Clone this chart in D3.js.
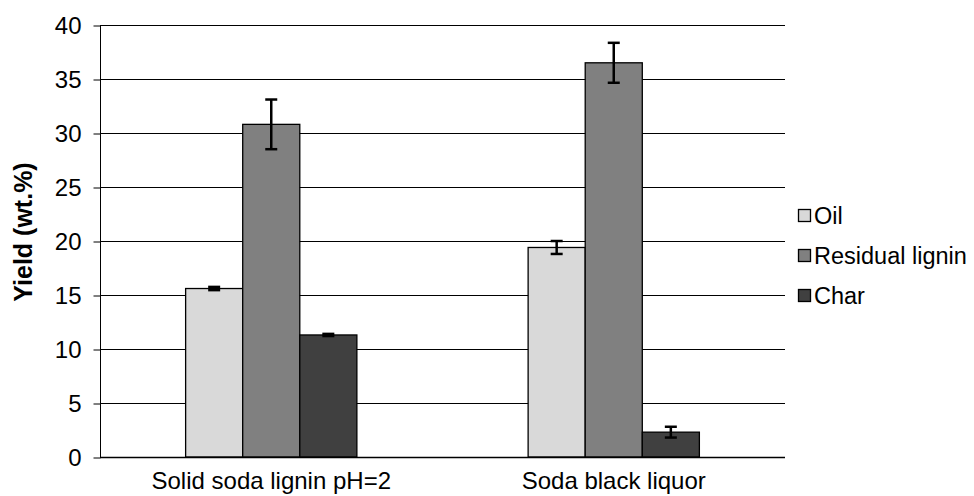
<!DOCTYPE html>
<html lang="en">
<head>
<meta charset="UTF-8">
<title>Yield chart</title>
<style>
    body { margin: 0; padding: 0; background: #fff; }
    svg text { font-family: Arial, "Liberation Sans", sans-serif; fill: #000; }
</style>
<script src="https://d3js.org/d3.v7.min.js"></script>
</head>
<body>
<svg id="chart" width="974" height="496"></svg>
<script>
    // data
    const categories = ["Solid soda lignin pH=2", "Soda black liquor"];
    const series = ["Oil", "Residual lignin", "Char"];
    const colors = ["#d9d9d9", "#808080", "#404040"];
    const oilValues = [15.6, 19.4];
    const ligninValues = [30.8, 36.5];
    const charValues = [11.3, 2.3];
    const oilErrors = [0.15, 0.6];
    const ligninErrors = [2.3, 1.85];
    const charErrors = [0.1, 0.5];
    const yTicks = [0, 5, 10, 15, 20, 25, 30, 35, 40];

    const values = [oilValues, ligninValues, charValues];
    const errors = [oilErrors, ligninErrors, charErrors];

    const plotLeft = 100, plotRight = 785, plotTop = 25, plotBottom = 457;
    const svg = d3.select("#chart");

    const y = d3.scaleLinear().domain([0, 40]).range([plotBottom, plotTop]);
    const x0 = d3.scaleBand().domain(categories).range([plotLeft, plotRight])
        .paddingInner(0.5).paddingOuter(0.25);
    const x1 = d3.scaleBand().domain(series).range([0, x0.bandwidth()]);

    // gridlines
    svg.append("g")
        .selectAll("line")
        .data(yTicks.filter(d => d > 0))
        .enter().append("line")
        .attr("x1", plotLeft).attr("x2", plotRight)
        .attr("y1", d => Math.round(y(d)) + 0.5)
        .attr("y2", d => Math.round(y(d)) + 0.5)
        .attr("stroke", "#000")
        .attr("stroke-width", 1);

    // y axis
    const yAxis = svg.append("g")
        .attr("transform", `translate(${plotLeft + 0.5},0.5)`)
        .call(d3.axisLeft(y).tickValues(yTicks).tickSize(7).tickPadding(12));
    yAxis.selectAll("text").style("font-size", "24px");
    yAxis.selectAll("line, path").attr("stroke", "#000");
    yAxis.select(".domain").attr("d", `M0,${plotTop}V${plotBottom}`);

    // bars
    const rows = [];
    categories.forEach((c, i) => {
        series.forEach((s, j) => {
            rows.push({ cat: c, ser: s, idx: j, v: values[j][i], e: errors[j][i] });
        });
    });

    svg.append("g")
        .selectAll("rect")
        .data(rows)
        .enter().append("rect")
        .attr("x", d => x0(d.cat) + x1(d.ser))
        .attr("y", d => y(d.v))
        .attr("width", x1.bandwidth())
        .attr("height", d => y(0) - y(d.v))
        .attr("fill", d => colors[d.idx])
        .attr("stroke", "#000")
        .attr("stroke-width", 1.3);

    // x axis baseline
    svg.append("line")
        .attr("x1", plotLeft).attr("x2", plotRight)
        .attr("y1", plotBottom + 0.5).attr("y2", plotBottom + 0.5)
        .attr("stroke", "#000").attr("stroke-width", 1.3);

    // error bars
    const err = svg.append("g").attr("stroke", "#000").attr("stroke-width", 2.5);
    rows.forEach(d => {
        const cx = x0(d.cat) + x1(d.ser) + x1.bandwidth() / 2;
        err.append("line")
            .attr("x1", cx).attr("x2", cx)
            .attr("y1", y(d.v + d.e)).attr("y2", y(d.v - d.e));
        [d.v + d.e, d.v - d.e].forEach(v => {
            err.append("line")
                .attr("x1", cx - 6).attr("x2", cx + 6)
                .attr("y1", y(v)).attr("y2", y(v));
        });
    });

    // category labels
    svg.append("g")
        .selectAll("text")
        .data(categories)
        .enter().append("text")
        .attr("x", d => x0(d) + x0.bandwidth() / 2)
        .attr("y", 489)
        .attr("text-anchor", "middle")
        .style("font-size", "24px")
        .text(d => d);

    // y title
    svg.append("text")
        .attr("transform", "translate(32,232) rotate(-90)")
        .attr("text-anchor", "middle")
        .style("font-size", "25px")
        .style("font-weight", "bold")
        .text("Yield (wt.%)");

    // legend
    const legend = svg.append("g")
        .selectAll("g")
        .data(series)
        .enter().append("g")
        .attr("transform", (d, i) => `translate(798,${216 + i * 40})`);
    legend.append("rect")
        .attr("x", 0.5).attr("y", -6.5)
        .attr("width", 12).attr("height", 12)
        .attr("fill", (d, i) => colors[i])
        .attr("stroke", "#000").attr("stroke-width", 1.3);
    legend.append("text")
        .attr("x", 16).attr("y", 0)
        .attr("dy", "0.35em")
        .style("font-size", "23.5px")
        .text(d => d);
</script>
</body>
</html>
